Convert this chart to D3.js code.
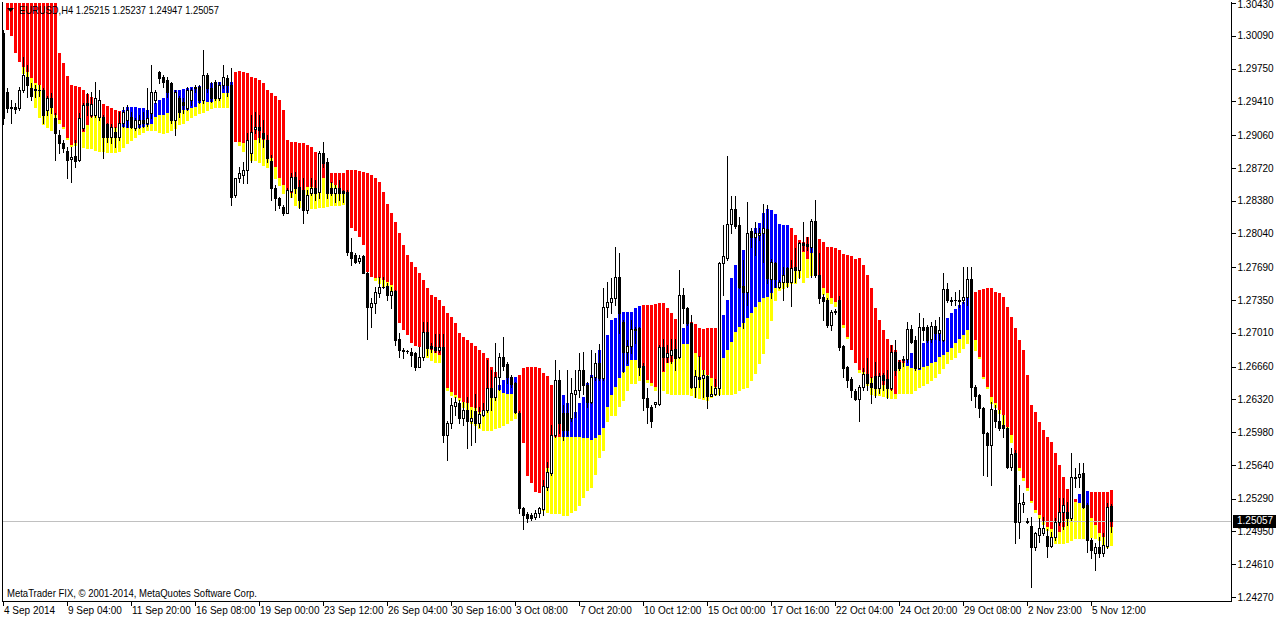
<!DOCTYPE html>
<html><head><meta charset="utf-8">
<script src="https://cdn.jsdelivr.net/npm/d3@7"></script>
<style>html,body{margin:0;padding:0;background:#fff;overflow:hidden}svg{display:block}</style>
</head><body>
<svg id="chart" width="1276" height="619"></svg>
<script>
const titleText = "EURUSD,H4  1.25215 1.25237 1.24947 1.25057";
const footerText = "MetaTrader FIX, \u00A9 2001-2014, MetaQuotes Software Corp.";
const lastPrice = 1.25057;

const openP = [1.3012,1.2951,1.2935,1.2935,1.2934,1.2953,1.2966,1.2955,1.2954,1.2953,1.2953,1.2932,1.2944,1.2924,1.2906,1.2898,1.2890,1.2881,1.2884,1.2880,
1.2913,1.2939,1.2927,1.2927,1.2925,1.2925,1.2918,1.2904,1.2909,1.2904,1.2919,1.2922,1.2925,1.2913,1.2918,1.2922,1.2919,1.2929,1.2942,1.2971,
1.2966,1.2963,1.2960,1.2922,1.2945,1.2940,1.2934,1.2942,1.2956,1.2956,1.2942,1.2968,1.2955,1.2961,1.2945,1.2958,1.2965,1.2958,1.2844,1.2861,
1.2865,1.2870,1.2887,1.2912,1.2914,1.2908,1.2901,1.2879,1.2851,1.2841,1.2831,1.2825,1.2848,1.2863,1.2852,1.2849,1.2828,1.2846,1.2851,1.2847,
1.2887,1.2878,1.2851,1.2846,1.2851,1.2848,1.2847,1.2785,1.2782,1.2775,1.2781,1.2763,1.2728,1.2732,1.2742,1.2749,1.2750,1.2740,1.2744,1.2695,
1.2683,1.2682,1.2681,1.2680,1.2666,1.2676,1.2702,1.2687,1.2686,1.2683,1.2686,1.2595,1.2607,1.2625,1.2628,1.2613,1.2621,1.2610,1.2620,1.2607,
1.2616,1.2621,1.2644,1.2634,1.2655,1.2676,1.2669,1.2655,1.2649,1.2618,1.2519,1.2513,1.2512,1.2510,1.2514,1.2518,1.2541,1.2556,1.2595,1.2652,
1.2618,1.2618,1.2613,1.2638,1.2642,1.2662,1.2647,1.2629,1.2655,1.2670,1.2654,1.2728,1.2733,1.2737,1.2759,1.2712,1.2681,1.2687,1.2704,1.2706,
1.2667,1.2633,1.2624,1.2627,1.2627,1.2686,1.2676,1.2678,1.2684,1.2676,1.2740,1.2727,1.2711,1.2645,1.2655,1.2654,1.2656,1.2635,1.2638,1.2644,
1.2773,1.2779,1.2814,1.2829,1.2813,1.2750,1.2743,1.2807,1.2800,1.2802,1.2804,1.2809,1.2757,1.2773,1.2748,1.2754,1.2768,1.2754,1.2769,1.2766,
1.2794,1.2793,1.2790,1.2817,1.2761,1.2738,1.2735,1.2709,1.2723,1.2735,1.2687,1.2665,1.2653,1.2641,1.2632,1.2645,1.2658,1.2649,1.2656,1.2644,
1.2657,1.2653,1.2644,1.2681,1.2671,1.2674,1.2674,1.2705,1.2693,1.2664,1.2707,1.2707,1.2695,1.2708,1.2701,1.2694,1.2746,1.2735,1.2735,1.2734,
1.2735,1.2738,1.2757,1.2645,1.2636,1.2623,1.2597,1.2585,1.2621,1.2610,1.2605,1.2602,1.2562,1.2576,1.2505,1.2523,1.2506,1.2501,1.2479,1.2491,
1.2493,1.2490,1.2480,1.2489,1.2505,1.2515,1.2515,1.2509,1.2551,1.2551,1.2556,1.2522,1.2486,1.2473,1.2479,1.2473,1.2480,1.25215];

const highP = [1.3015,1.2955,1.2942,1.2939,1.2956,1.2987,1.2979,1.2960,1.2958,1.2958,1.2955,1.2947,1.2950,1.2929,1.2911,1.2901,1.2894,1.2894,1.2901,1.2929,
1.2939,1.2950,1.2951,1.2961,1.2953,1.2927,1.2919,1.2918,1.2914,1.2930,1.2935,1.2937,1.2930,1.2924,1.2927,1.2930,1.2955,1.2979,1.2953,1.2973,
1.2968,1.2966,1.2961,1.2953,1.2947,1.2944,1.2956,1.2955,1.2958,1.2958,1.2994,1.2970,1.2961,1.2963,1.2961,1.2979,1.2968,1.2976,1.2862,1.2873,
1.2878,1.2908,1.2927,1.2930,1.2927,1.2922,1.2906,1.2885,1.2854,1.2842,1.2833,1.2851,1.2867,1.2868,1.2859,1.2861,1.2849,1.2861,1.2859,1.2890,
1.2899,1.2882,1.2857,1.2854,1.2859,1.2849,1.2849,1.2799,1.2784,1.2782,1.2782,1.2764,1.2737,1.2748,1.2759,1.2759,1.2753,1.2748,1.2745,1.2701,
1.2685,1.2683,1.2685,1.2681,1.2686,1.2712,1.2712,1.2690,1.2700,1.2700,1.2700,1.2610,1.2633,1.2634,1.2631,1.2629,1.2634,1.2621,1.2638,1.2624,
1.2628,1.2673,1.2662,1.2690,1.2680,1.2697,1.2671,1.2657,1.2650,1.2620,1.2520,1.2515,1.2514,1.2517,1.2520,1.2548,1.2567,1.2605,1.2673,1.2662,
1.2626,1.2662,1.2654,1.2662,1.2680,1.2681,1.2650,1.2683,1.2680,1.2689,1.2747,1.2754,1.2758,1.2790,1.2784,1.2714,1.2693,1.2714,1.2707,1.2707,
1.2670,1.2644,1.2626,1.2629,1.2688,1.2695,1.2688,1.2695,1.2695,1.2766,1.2747,1.2728,1.2719,1.2662,1.2677,1.2662,1.2657,1.2646,1.2653,1.2774,
1.2813,1.2884,1.2843,1.2843,1.2821,1.2776,1.2837,1.2810,1.2816,1.2810,1.2835,1.2833,1.2777,1.2774,1.2756,1.2769,1.2769,1.2776,1.2789,1.2795,
1.2816,1.2800,1.2819,1.2839,1.2784,1.2741,1.2737,1.2725,1.2726,1.2739,1.2688,1.2667,1.2655,1.2643,1.2647,1.2664,1.2675,1.2655,1.2671,1.2659,
1.2659,1.2662,1.2688,1.2693,1.2673,1.2677,1.2712,1.2709,1.2698,1.2721,1.2716,1.2709,1.2712,1.2714,1.2717,1.2763,1.2753,1.2738,1.2743,1.2745,
1.2769,1.2769,1.2769,1.2647,1.2638,1.2624,1.2598,1.2629,1.2626,1.2621,1.2616,1.2603,1.2582,1.2579,1.2543,1.2535,1.2509,1.2510,1.2494,1.2509,
1.2510,1.2498,1.2494,1.2509,1.2530,1.2530,1.2525,1.2576,1.2561,1.2566,1.2566,1.2524,1.2488,1.2483,1.2489,1.2493,1.2524,1.25237];

const lowP = [1.2918,1.2930,1.2919,1.2929,1.2932,1.2951,1.2946,1.2942,1.2946,1.2947,1.2919,1.2927,1.2929,1.2880,1.2887,1.2888,1.2862,1.2857,1.2873,1.2879,
1.2911,1.2927,1.2925,1.2925,1.2922,1.2882,1.2899,1.2898,1.2894,1.2901,1.2914,1.2914,1.2913,1.2911,1.2913,1.2914,1.2915,1.2924,1.2939,1.2960,
1.2956,1.2946,1.2919,1.2906,1.2925,1.2929,1.2932,1.2937,1.2951,1.2939,1.2939,1.2951,1.2940,1.2942,1.2942,1.2955,1.2947,1.2833,1.2842,1.2857,
1.2856,1.2856,1.2878,1.2908,1.2899,1.2894,1.2878,1.2839,1.2828,1.2830,1.2823,1.2825,1.2842,1.2846,1.2830,1.2815,1.2825,1.2844,1.2839,1.2841,
1.2873,1.2841,1.2844,1.2837,1.2839,1.2837,1.2782,1.2771,1.2773,1.2773,1.2763,1.2695,1.2707,1.2722,1.2738,1.2747,1.2735,1.2727,1.2688,1.2676,
1.2675,1.2680,1.2667,1.2662,1.2665,1.2673,1.2678,1.2681,1.2681,1.2681,1.2588,1.2569,1.2602,1.2616,1.2607,1.2605,1.2582,1.2585,1.2588,1.2603,
1.2615,1.2619,1.2621,1.2631,1.2642,1.2662,1.2649,1.2645,1.2618,1.2514,1.2498,1.2505,1.2507,1.2508,1.2510,1.2512,1.2538,1.2553,1.2593,1.2597,
1.2590,1.2595,1.2610,1.2614,1.2634,1.2638,1.2624,1.2628,1.2652,1.2652,1.2652,1.2717,1.2721,1.2730,1.2701,1.2660,1.2670,1.2680,1.2690,1.2657,
1.2621,1.2607,1.2603,1.2624,1.2626,1.2662,1.2671,1.2670,1.2662,1.2675,1.2711,1.2709,1.2644,1.2634,1.2645,1.2634,1.2623,1.2635,1.2636,1.2636,
1.2740,1.2776,1.2805,1.2810,1.2747,1.2706,1.2730,1.2790,1.2782,1.2797,1.2774,1.2753,1.2737,1.2748,1.2747,1.2735,1.2748,1.2729,1.2754,1.2758,
1.2787,1.2787,1.2759,1.2759,1.2732,1.2714,1.2707,1.2704,1.2720,1.2683,1.2655,1.2645,1.2634,1.2631,1.2610,1.2642,1.2642,1.2628,1.2634,1.2639,
1.2642,1.2633,1.2642,1.2657,1.2662,1.2667,1.2671,1.2690,1.2662,1.2664,1.2693,1.2691,1.2691,1.2695,1.2693,1.2692,1.2733,1.2730,1.2730,1.2728,
1.2732,1.2730,1.2631,1.2624,1.2614,1.2553,1.2552,1.2543,1.2603,1.2600,1.2593,1.2561,1.2559,1.2483,1.2488,1.2515,1.2504,1.2437,1.2476,1.2484,
1.2491,1.2468,1.2479,1.2486,1.2502,1.2498,1.2502,1.2507,1.2541,1.2541,1.2519,1.2474,1.2467,1.2455,1.2468,1.2470,1.2478,1.24947];

const closeP = [1.2924,1.2934,1.2934,1.2933,1.2953,1.2968,1.2958,1.2947,1.2953,1.2953,1.2927,1.2944,1.2935,1.2908,1.2898,1.2893,1.2880,1.2883,1.2879,1.2924,
1.2937,1.2937,1.2938,1.2944,1.2942,1.2904,1.2904,1.2914,1.2904,1.2919,1.2930,1.2932,1.2914,1.2922,1.2922,1.2919,1.2924,1.2951,1.2951,1.2965,
1.2961,1.2951,1.2922,1.2951,1.2930,1.2937,1.2953,1.2953,1.2955,1.2942,1.2968,1.2955,1.2944,1.2945,1.2958,1.2966,1.2958,1.2842,1.2861,1.2867,
1.2870,1.2901,1.2909,1.2914,1.2911,1.2903,1.2882,1.2851,1.2841,1.2833,1.2825,1.2849,1.2863,1.2851,1.2839,1.2828,1.2844,1.2851,1.2846,1.2887,
1.2877,1.2846,1.2846,1.2851,1.2846,1.2846,1.2785,1.2779,1.2774,1.2779,1.2763,1.2728,1.2732,1.2743,1.2749,1.2748,1.2740,1.2744,1.2693,1.2683,
1.2682,1.2682,1.2678,1.2666,1.2676,1.2702,1.2685,1.2685,1.2683,1.2686,1.2595,1.2607,1.2626,1.2629,1.2613,1.2621,1.2610,1.2613,1.2607,1.2617,
1.2621,1.2644,1.2634,1.2655,1.2676,1.2667,1.2655,1.2648,1.2619,1.2519,1.2512,1.2509,1.2509,1.2514,1.2519,1.2542,1.2557,1.2595,1.2652,1.2607,
1.2600,1.2600,1.2639,1.2642,1.2662,1.2647,1.2629,1.2655,1.2670,1.2654,1.2728,1.2733,1.2737,1.2759,1.2721,1.2681,1.2687,1.2705,1.2705,1.2666,
1.2633,1.2624,1.2610,1.2629,1.2686,1.2676,1.2680,1.2683,1.2675,1.2740,1.2727,1.2711,1.2645,1.2656,1.2653,1.2657,1.2635,1.2638,1.2644,1.2773,
1.2781,1.2814,1.2829,1.2812,1.2749,1.2743,1.2805,1.2800,1.2805,1.2804,1.2810,1.2758,1.2774,1.2757,1.2754,1.2761,1.2754,1.2768,1.2766,1.2794,
1.2792,1.2791,1.2817,1.2761,1.2737,1.2734,1.2709,1.2723,1.2724,1.2686,1.2664,1.2652,1.2642,1.2632,1.2645,1.2658,1.2649,1.2645,1.2644,1.2656,
1.2652,1.2644,1.2681,1.2662,1.2664,1.2673,1.2705,1.2691,1.2664,1.2707,1.2704,1.2693,1.2708,1.2701,1.2704,1.2746,1.2735,1.2734,1.2735,1.2735,
1.2738,1.2757,1.2645,1.2635,1.2623,1.2597,1.2585,1.2622,1.2610,1.2602,1.2602,1.2562,1.2575,1.2505,1.2524,1.2525,1.2505,1.2479,1.2493,1.2499,
1.2499,1.2480,1.2489,1.2505,1.2515,1.2522,1.2509,1.2551,1.2550,1.2555,1.2520,1.2486,1.2476,1.2479,1.2473,1.2481,1.2520,1.25057];

// indicator: upper edge, middle (colour/yellow boundary), lower edge
const indTop = [null,1.3051,1.3051,1.3051,1.3051,1.3051,1.3051,1.3051,1.3051,1.3051,1.3051,1.3051,1.3051,1.3051,1.2991,1.2981,1.2967,1.2958,1.2957,1.2956,
1.2953,1.2949,1.2946,1.2942,1.2939,1.2938,1.2936,1.2934,1.2932,1.2931,1.2932,1.2935,1.2935,1.2935,1.2934,1.2934,1.2932,1.2932,1.2939,1.2942,
1.2945,1.2950,1.2951,1.2953,1.2953,1.2954,1.2955,1.2956,1.2956,1.2957,1.2956,1.2958,1.2960,1.2960,1.2961,1.2961,1.2961,1.2961,1.2971,1.2972,
1.2971,1.2970,1.2966,1.2965,1.2963,1.2960,1.2953,1.2950,1.2947,1.2942,1.2932,1.2901,1.2899,1.2899,1.2898,1.2898,1.2896,1.2894,1.2888,1.2887,
1.2883,1.2867,1.2867,1.2867,1.2867,1.2867,1.2870,1.2870,1.2870,1.2869,1.2868,1.2867,1.2865,1.2862,1.2857,1.2847,1.2835,1.2825,1.2816,1.2804,
1.2792,1.2782,1.2774,1.2769,1.2763,1.2756,1.2747,1.2740,1.2738,1.2735,1.2729,1.2721,1.2717,1.2711,1.2701,1.2697,1.2693,1.2690,1.2687,1.2683,
1.2680,1.2675,1.2665,1.2660,1.2647,1.2652,1.2654,1.2655,1.2655,1.2657,1.2664,1.2666,1.2666,1.2666,1.2664,1.2659,1.2656,1.2647,1.2639,1.2631,
1.2636,1.2628,1.2621,1.2619,1.2628,1.2634,1.2649,1.2657,1.2662,1.2683,1.2688,1.2699,1.2714,1.2716,1.2722,1.2723,1.2723,1.2723,1.2727,1.2729,
1.2730,1.2730,1.2730,1.2731,1.2732,1.2732,1.2727,1.2721,1.2715,1.2709,1.2706,1.2711,1.2712,1.2710,1.2706,1.2705,1.2706,1.2706,1.2706,1.2709,
1.2719,1.2735,1.2758,1.2771,1.2782,1.2787,1.2797,1.2807,1.2810,1.2815,1.2825,1.2829,1.2828,1.2824,1.2814,1.2813,1.2813,1.2810,1.2802,1.2797,
1.2795,1.2800,1.2790,1.2797,1.2798,1.2795,1.2790,1.2790,1.2789,1.2787,1.2783,1.2782,1.2781,1.2777,1.2779,1.2771,1.2761,1.2747,1.2727,1.2714,
1.2704,1.2695,1.2688,1.2683,1.2673,1.2674,1.2673,1.2680,1.2686,1.2691,1.2690,1.2695,1.2701,1.2702,1.2702,1.2707,1.2716,1.2721,1.2726,1.2730,
1.2733,1.2738,1.2743,1.2743,1.2745,1.2746,1.2747,1.2747,1.2743,1.2742,1.2738,1.2728,1.2717,1.2706,1.2693,1.2683,1.2657,1.2626,1.2619,1.2608,
1.2600,1.2593,1.2588,1.2576,1.2564,1.2551,1.2539,1.2528,1.2529,1.2534,1.2537,1.2537,1.2536,1.2536,1.2536,1.2536,1.2536,1.2538];

const indMid = [null,1.3015,1.3009,1.2991,1.2982,1.2977,1.2971,1.2965,1.2960,1.2958,1.2951,1.2945,1.2942,1.2927,1.2922,1.2914,1.2903,1.2896,1.2898,1.2906,
1.2909,1.2916,1.2925,1.2929,1.2927,1.2919,1.2913,1.2914,1.2913,1.2913,1.2914,1.2913,1.2913,1.2913,1.2913,1.2914,1.2916,1.2918,1.2925,1.2927,
1.2927,1.2929,1.2930,1.2930,1.2929,1.2932,1.2932,1.2934,1.2935,1.2939,1.2942,1.2940,1.2940,1.2945,1.2947,1.2950,1.2950,1.2950,1.2899,1.2899,
1.2898,1.2896,1.2899,1.2901,1.2903,1.2901,1.2885,1.2882,1.2873,1.2862,1.2854,1.2849,1.2846,1.2850,1.2846,1.2842,1.2852,1.2852,1.2851,1.2870,
1.2861,1.2854,1.2856,1.2854,1.2851,1.2846,1.2807,1.2810,1.2807,1.2800,1.2792,1.2764,1.2759,1.2758,1.2758,1.2756,1.2754,1.2751,1.2735,1.2711,
1.2704,1.2699,1.2690,1.2687,1.2686,1.2686,1.2685,1.2683,1.2680,1.2678,1.2649,1.2644,1.2640,1.2636,1.2633,1.2629,1.2628,1.2624,1.2623,1.2619,
1.2618,1.2634,1.2638,1.2642,1.2642,1.2639,1.2638,1.2638,1.2638,1.2587,1.2587,1.2552,1.2545,1.2536,1.2535,1.2541,1.2561,1.2590,1.2593,1.2593,
1.2593,1.2593,1.2593,1.2593,1.2593,1.2592,1.2592,1.2590,1.2592,1.2595,1.2602,1.2624,1.2636,1.2645,1.2654,1.2660,1.2667,1.2673,1.2673,1.2673,
1.2664,1.2652,1.2649,1.2645,1.2652,1.2660,1.2670,1.2671,1.2680,1.2689,1.2689,1.2689,1.2683,1.2680,1.2676,1.2662,1.2657,1.2654,1.2645,1.2667,
1.2675,1.2683,1.2691,1.2702,1.2707,1.2711,1.2716,1.2721,1.2728,1.2733,1.2737,1.2738,1.2742,1.2747,1.2748,1.2753,1.2759,1.2763,1.2766,1.2776,
1.2785,1.2778,1.2784,1.2771,1.2761,1.2747,1.2742,1.2737,1.2733,1.2725,1.2709,1.2697,1.2683,1.2670,1.2662,1.2660,1.2657,1.2654,1.2652,1.2649,
1.2647,1.2644,1.2642,1.2638,1.2667,1.2670,1.2667,1.2664,1.2664,1.2662,1.2665,1.2667,1.2670,1.2671,1.2676,1.2678,1.2681,1.2685,1.2690,1.2695,
1.2699,1.2704,1.2699,1.2693,1.2676,1.2655,1.2645,1.2634,1.2628,1.2621,1.2616,1.2603,1.2595,1.2576,1.2561,1.2550,1.2540,1.2527,1.2517,1.2512,
1.2505,1.2500,1.2498,1.2494,1.2494,1.2500,1.2509,1.2525,1.2525,1.2524,1.2522,1.2522,1.2509,1.2502,1.2493,1.2489,1.2486,1.2500];

const indBot = [null,1.3015,1.3009,1.2991,1.2982,1.2970,1.2961,1.2947,1.2935,1.2925,1.2918,1.2914,1.2911,1.2924,1.2919,1.2913,1.2902,1.2895,1.2896,1.2896,
1.2894,1.2893,1.2893,1.2891,1.2890,1.2890,1.2889,1.2888,1.2888,1.2890,1.2894,1.2898,1.2901,1.2904,1.2907,1.2909,1.2911,1.2911,1.2911,1.2909,
1.2908,1.2909,1.2911,1.2913,1.2918,1.2919,1.2922,1.2925,1.2927,1.2929,1.2930,1.2932,1.2934,1.2935,1.2935,1.2935,1.2935,1.2935,1.2899,1.2896,
1.2890,1.2888,1.2880,1.2880,1.2878,1.2875,1.2873,1.2872,1.2862,1.2854,1.2846,1.2843,1.2842,1.2833,1.2831,1.2831,1.2830,1.2830,1.2830,1.2831,
1.2831,1.2832,1.2833,1.2833,1.2834,1.2835,1.2807,1.2810,1.2807,1.2800,1.2792,1.2764,1.2759,1.2756,1.2753,1.2750,1.2748,1.2745,1.2735,1.2711,
1.2704,1.2699,1.2690,1.2687,1.2686,1.2683,1.2676,1.2673,1.2671,1.2671,1.2649,1.2642,1.2636,1.2634,1.2631,1.2624,1.2621,1.2607,1.2605,1.2602,
1.2600,1.2600,1.2600,1.2602,1.2603,1.2605,1.2607,1.2611,1.2613,1.2587,1.2587,1.2552,1.2545,1.2536,1.2535,1.2517,1.2515,1.2514,1.2514,1.2514,
1.2512,1.2512,1.2515,1.2517,1.2522,1.2531,1.2538,1.2541,1.2555,1.2572,1.2579,1.2610,1.2616,1.2616,1.2625,1.2631,1.2642,1.2649,1.2649,1.2652,
1.2652,1.2650,1.2647,1.2642,1.2642,1.2642,1.2639,1.2638,1.2638,1.2638,1.2638,1.2638,1.2636,1.2634,1.2633,1.2632,1.2631,1.2634,1.2636,1.2638,
1.2638,1.2638,1.2638,1.2639,1.2642,1.2644,1.2645,1.2652,1.2659,1.2670,1.2680,1.2696,1.2714,1.2735,1.2745,1.2747,1.2750,1.2753,1.2753,1.2759,
1.2754,1.2759,1.2761,1.2761,1.2749,1.2741,1.2732,1.2732,1.2729,1.2723,1.2707,1.2696,1.2683,1.2670,1.2660,1.2654,1.2647,1.2638,1.2636,1.2636,
1.2635,1.2634,1.2633,1.2633,1.2639,1.2639,1.2639,1.2639,1.2642,1.2645,1.2647,1.2649,1.2652,1.2655,1.2659,1.2664,1.2670,1.2674,1.2676,1.2681,
1.2685,1.2690,1.2688,1.2683,1.2675,1.2654,1.2644,1.2628,1.2624,1.2618,1.2605,1.2600,1.2588,1.2574,1.2559,1.2548,1.2538,1.2525,1.2515,1.2509,
1.2503,1.2496,1.2486,1.2483,1.2483,1.2483,1.2484,1.2486,1.2488,1.2488,1.2488,1.2489,1.2489,1.2488,1.2486,1.2481,1.2479,1.2481];

// trend colour runs of the indicator: [first bar, last bar, colour]
const trendRuns = [[1,29,"down"],[30,57,"up"],[58,123,"down"],[124,128,"up"],[129,139,"down"],[140,159,"up"],[160,168,"down"],
[169,171,"up"],[172,178,"down"],[179,196,"up"],[197,201,"down"],[202,202,"up"],[203,225,"down"],[226,241,"up"],[242,268,"down"],
[269,271,"up"],[272,277,"down"]];

const priceTicks = [1.30430,1.30090,1.29750,1.29410,1.29060,1.28720,1.28380,1.28040,1.27690,1.27350,1.27010,1.26660,1.26320,1.25980,1.25640,1.25290,1.24950,1.24610,1.24270];
const dateLabels = ["4 Sep 2014","9 Sep 04:00","11 Sep 20:00","16 Sep 08:00","19 Sep 00:00","23 Sep 12:00","26 Sep 04:00","30 Sep 16:00","3 Oct 08:00","7 Oct 20:00","10 Oct 12:00","15 Oct 00:00","17 Oct 16:00","22 Oct 04:00","24 Oct 20:00","29 Oct 08:00","2 Nov 23:00","5 Nov 12:00"];
const dateLabelBars = [0,16,32,48,64,80,96,112,128,144,160,176,192,208,224,240,256,272];

const trendColor = {down:"#FF0000", up:"#0000FF"};
const yellow = "#FFFF00";

const svg = d3.select("#chart");
const nBars = openP.length;
const plot = {left:2, right:1231, top:2, bottom:601};

const x = d3.scaleLinear().domain([0, nBars-1]).range([3.5, 3.5 + 4*(nBars-1)]);
const y = d3.scaleLinear().domain([1.24270, 1.30430]).range([597, 3]);
const Y = v => Math.round(y(v));

const colorOf = new Array(nBars).fill(null);
trendRuns.forEach(([a,b,c]) => { for (let i=a;i<=b;i++) colorOf[i]=c; });

svg.append("defs").append("clipPath").attr("id","plotClip")
  .append("rect").attr("x",plot.left).attr("y",plot.top+1).attr("width",plot.right-plot.left).attr("height",plot.bottom-plot.top-1);

const g = svg.append("g").attr("clip-path","url(#plotClip)").attr("shape-rendering","crispEdges");

const idx = d3.range(nBars);
const indIdx = idx.filter(i => indTop[i] !== null);

// yellow lower part
g.append("g").selectAll("rect").data(indIdx.filter(i => Y(indBot[i]) > Y(indMid[i]))).join("rect")
  .attr("x", i => x(i)-1.5).attr("width",3)
  .attr("y", i => Y(indMid[i])).attr("height", i => Y(indBot[i]) - Y(indMid[i]) + 1)
  .attr("fill", yellow);
// coloured upper part
g.append("g").selectAll("rect").data(indIdx).join("rect")
  .attr("x", i => x(i)-1.5).attr("width",3)
  .attr("y", i => Y(indTop[i])).attr("height", i => Math.max(1, Y(indMid[i]) - Y(indTop[i])))
  .attr("fill", i => trendColor[colorOf[i]]);

// bid line
g.append("line").attr("x1",plot.left).attr("x2",plot.right)
  .attr("y1",Y(lastPrice)+0.5).attr("y2",Y(lastPrice)+0.5)
  .attr("stroke","#C0C0C0").attr("stroke-width",1);

// candles
const cg = g.append("g");
cg.selectAll("line.wick").data(idx).join("line").attr("class","wick")
  .attr("x1", i => x(i)).attr("x2", i => x(i))
  .attr("y1", i => Y(highP[i])).attr("y2", i => Y(lowP[i]) + 1)
  .attr("stroke","#000").attr("stroke-width",1);
idx.forEach(i => {
  const o = openP[i], c = closeP[i];
  const top = Y(Math.max(o,c)), bot = Y(Math.min(o,c));
  if (bot - top < 1) {
    cg.append("rect").attr("x", x(i)-1.5).attr("y", top).attr("width",3).attr("height",1).attr("fill","#000");
  } else if (c > o) {
    cg.append("rect").attr("x", x(i)-1).attr("y", top+0.5).attr("width",2).attr("height", bot-top)
      .attr("fill","#fff").attr("stroke","#000").attr("stroke-width",1);
  } else {
    cg.append("rect").attr("x", x(i)-1.5).attr("y", top).attr("width",3).attr("height", bot-top+1).attr("fill","#000");
  }
});

// frame
const frame = svg.append("g").attr("shape-rendering","crispEdges").attr("stroke","#000").attr("stroke-width",1);
frame.append("line").attr("x1",plot.left+0.5).attr("x2",plot.left+0.5).attr("y1",plot.top).attr("y2",plot.bottom+1);
frame.append("line").attr("x1",plot.left).attr("x2",plot.right+1).attr("y1",plot.bottom+0.5).attr("y2",plot.bottom+0.5);
frame.append("line").attr("x1",plot.right+0.5).attr("x2",plot.right+0.5).attr("y1",plot.top).attr("y2",plot.bottom+1);

const font = "'Liberation Sans', Arial, sans-serif";

// price axis
const yAxis = d3.axisRight(y).tickValues(priceTicks).tickFormat(d3.format(".5f")).tickSize(4).tickPadding(2);
const ya = svg.append("g").attr("transform",`translate(${plot.right+0.5},0)`).call(yAxis);
ya.select(".domain").remove();
ya.selectAll(".tick line").attr("stroke","#000").attr("shape-rendering","crispEdges");
ya.selectAll(".tick text").attr("font-family",font).attr("font-size",10).attr("fill","#000")
  .attr("dy", d => d === priceTicks[0] ? "0.45em" : "0.32em");

// current price label
const ly = Y(lastPrice);
svg.append("rect").attr("x",plot.right+2).attr("y",ly-6).attr("width",1276-plot.right-2).attr("height",13).attr("fill","#000");
svg.append("text").attr("x",plot.right+6).attr("y",ly+0.5).attr("dominant-baseline","middle")
  .attr("font-family",font).attr("font-size",10).attr("fill","#fff").text(d3.format(".5f")(lastPrice));

// time axis
const xa = svg.append("g").attr("shape-rendering","crispEdges");
xa.selectAll("line").data(dateLabelBars).join("line")
  .attr("x1", b => Math.floor(x(b))+0.5).attr("x2", b => Math.floor(x(b))+0.5)
  .attr("y1", plot.bottom).attr("y2", plot.bottom+5).attr("stroke","#000");
svg.append("g").selectAll("text").data(dateLabels).join("text")
  .attr("x", (d,k) => Math.floor(x(dateLabelBars[k]))+1).attr("y", 614)
  .attr("font-family",font).attr("font-size",10).attr("fill","#000").text(d => d);

// title
svg.append("path").attr("d","M7,8 L14,8 L10.5,12 Z").attr("fill","#000");
svg.append("text").attr("x",19).attr("y",14).attr("font-family",font).attr("font-size",11)
  .attr("textLength",200).attr("lengthAdjust","spacingAndGlyphs").attr("fill","#000").text(titleText);
// footer
svg.append("text").attr("x",7).attr("y",597).attr("font-family",font).attr("font-size",10.5)
  .attr("textLength",250).attr("lengthAdjust","spacingAndGlyphs").attr("fill","#000").text(footerText);
</script>
</body></html>
